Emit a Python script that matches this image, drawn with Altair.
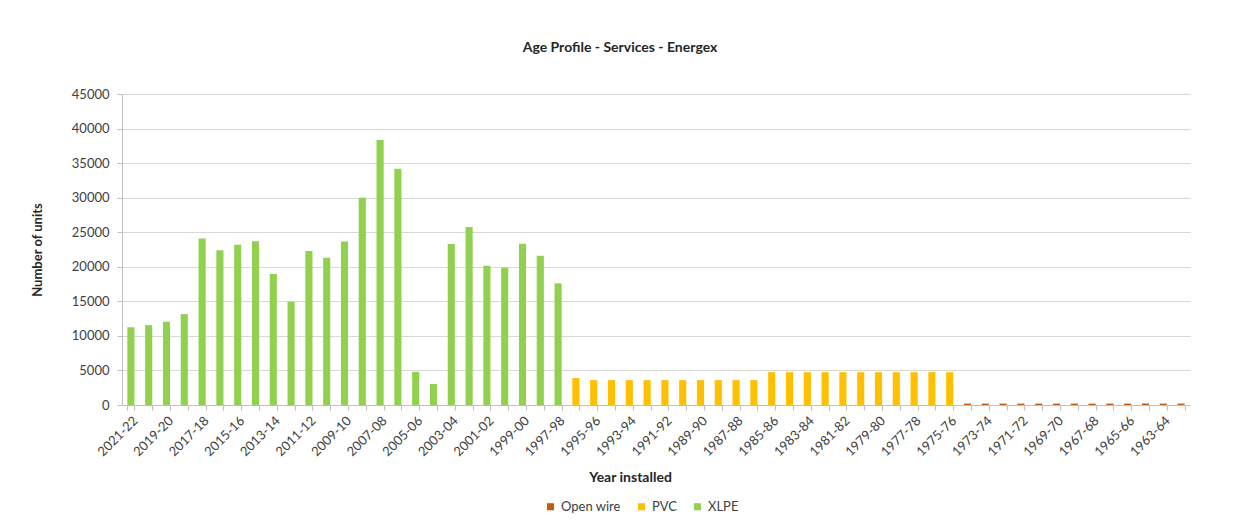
import altair as alt
import pandas as pd

years = [
    "2021-22", "2020-21", "2019-20", "2018-19", "2017-18", "2016-17", "2015-16", "2014-15",
    "2013-14", "2012-13", "2011-12", "2010-11", "2009-10", "2008-09", "2007-08", "2006-07",
    "2005-06", "2004-05", "2003-04", "2002-03", "2001-02", "2000-01", "1999-00", "1998-99",
    "1997-98",
    "1996-97", "1995-96", "1994-95", "1993-94", "1992-93", "1991-92", "1990-91", "1989-90",
    "1988-89", "1987-88", "1986-87", "1985-86", "1984-85", "1983-84", "1982-83", "1981-82",
    "1980-81", "1979-80", "1978-79", "1977-78", "1976-77", "1975-76",
    "1974-75", "1973-74", "1972-73", "1971-72", "1970-71", "1969-70", "1968-69", "1967-68",
    "1966-67", "1965-66", "1964-65", "1963-64", "1962-63",
]

xlpe = [11250, 11550, 12050, 13150, 24100, 22400, 23200, 23700, 18950, 14950,
        22300, 21300, 23650, 30000, 38350, 34200, 4800, 3050, 23300, 25750,
        20150, 19850, 23350, 21600, 17600]
pvc = [3900, 3600, 3600, 3600, 3600, 3600, 3600, 3600, 3600, 3600, 3600,
       4750, 4750, 4750, 4750, 4750, 4750, 4750, 4750, 4750, 4750, 4750]
open_wire = [200] * 13

series_names = ["Open wire", "PVC", "XLPE"]
series_colors = ["#C55A11", "#FFC000", "#92D050"]
y_ticks = [0, 5000, 10000, 15000, 20000, 25000, 30000, 35000, 40000, 45000]

types = ["XLPE"] * len(xlpe) + ["PVC"] * len(pvc) + ["Open wire"] * len(open_wire)
df = pd.DataFrame({"year": years, "units": xlpe + pvc + open_wire, "type": types})

FONT = "Lato"
TXT = "#404040"

chart = alt.Chart(df).mark_bar().encode(
    x=alt.X("year:N", sort=years,
            scale=alt.Scale(domain=years, paddingInner=0.6, paddingOuter=0.3),
            axis=alt.Axis(title="Year installed", labelAngle=-45,
                          labelExpr="toNumber(substring(datum.value,0,4)) % 2 == 1 ? datum.value : ''",
                          ticks=True, tickBand="extent", tickColor="#bfbfbf", tickSize=5,
                          domain=True, domainColor="#bfbfbf", labelPadding=4,
                          labelFontSize=13, labelColor=TXT, titleFontSize=14,
                          titleFontWeight="bold", titleColor="#262626", titlePadding=12,
                          titleX=508, labelOverlap=False)),
    y=alt.Y("units:Q", scale=alt.Scale(domain=[0, 45000], nice=False),
            axis=alt.Axis(title="Number of units", values=y_ticks,
                          format="d", grid=True, gridColor="#d9d9d9", domain=True,
                          domainColor="#bfbfbf", tickColor="#bfbfbf", tickSize=5,
                          labelFontSize=13, labelColor=TXT, labelPadding=8,
                          titleFontSize=13, titleFontWeight="bold", titleColor="#262626",
                          titlePadding=27)),
    color=alt.Color("type:N", scale=alt.Scale(domain=series_names, range=series_colors),
                    legend=alt.Legend(title=None, orient="none", direction="horizontal",
                                      legendX=422, legendY=406,
                                      symbolType="square", symbolSize=50, labelFontSize=13,
                                      labelColor=TXT, columnPadding=14)),
).properties(
    width=1068, height=311,
    title=alt.TitleParams("Age Profile - Services - Energex", fontSize=14, font=FONT,
                          fontWeight="bold", color="#262626", offset=33, dx=-36),
    padding={"left": 23, "top": 33, "right": 5, "bottom": 5},
).configure(font=FONT).configure_view(stroke=None).configure_axis(labelFont=FONT, titleFont=FONT)

chart.save("out.html", embed_options={"renderer": "svg", "actions": False})
